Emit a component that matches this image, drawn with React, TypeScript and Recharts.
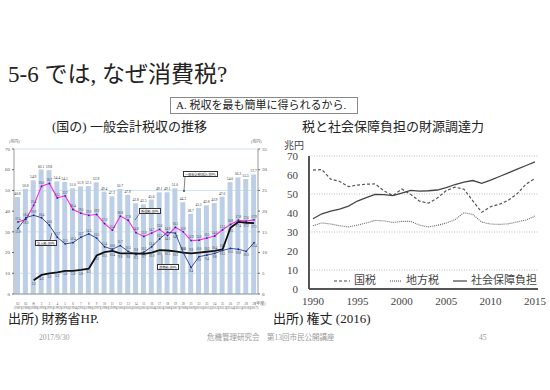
import React from "react";
import {
  ComposedChart,
  LineChart,
  Bar,
  Line,
  XAxis,
  YAxis,
  CartesianGrid,
  LabelList,
} from "recharts";

// left chart: general account tax revenue, FY1987-2017 (trillion yen)
const fiscalYears = [
  1987, 1988, 1989, 1990, 1991, 1992, 1993, 1994, 1995, 1996, 1997, 1998, 1999, 2000, 2001, 2002,
  2003, 2004, 2005, 2006, 2007, 2008, 2009, 2010, 2011, 2012, 2013, 2014, 2015, 2016, 2017,
];
const eraLabels = [
  "62", "63", "元", "2", "3", "4", "5", "6", "7", "8", "9", "10", "11", "12", "13", "14",
  "15", "16", "17", "18", "19", "20", "21", "22", "23", "24", "25", "26", "27", "28", "29",
];
const totalRevenue = [
  46.8, 50.8, 54.9, 60.1, 59.8, 54.4, 54.1, 51.0, 51.9, 52.1, 53.9, 49.4, 47.2, 50.7, 47.9, 43.8,
  43.3, 45.6, 49.1, 49.1, 51.0, 44.3, 38.7, 41.5, 42.8, 43.9, 47.0, 54.0, 56.3, 55.5, 57.7,
];
const incomeTax = [
  17.4, 18.0, 21.4, 26.0, 26.7, 23.2, 23.7, 20.4, 19.5, 19.0, 19.2, 17.0, 15.4, 18.8, 17.8, 14.8,
  13.9, 14.7, 15.6, 14.1, 16.1, 15.0, 12.9, 13.0, 13.5, 14.0, 15.5, 16.8, 17.8, 17.6, 17.9,
];
const corporateTax = [
  15.8, 18.4, 19.0, 18.4, 16.6, 13.7, 12.1, 12.4, 13.7, 14.5, 13.5, 11.4, 10.8, 11.7, 10.3, 9.5,
  10.1, 11.4, 13.3, 14.9, 14.7, 10.0, 6.4, 9.0, 9.4, 9.8, 10.5, 11.0, 10.8, 10.3, 12.4,
];
const consumptionTax = [
  null, null, 3.3, 4.6, 5.0, 5.2, 5.6, 5.6, 5.8, 6.1, 9.3, 10.1, 10.4, 9.8, 9.8, 9.8,
  9.7, 10.0, 10.6, 10.5, 10.3, 10.0, 9.8, 10.0, 10.2, 10.4, 10.8, 16.0, 17.4, 17.2, 17.1,
];
const leftTicks = [0, 10, 20, 30, 40, 50, 60, 70];
const rightTicks = [0, 5, 10, 15, 20, 25, 30, 35];

// right chart: funding capacity of taxes and social insurance (trillion yen)
const calendarYears = [
  1990, 1991, 1992, 1993, 1994, 1995, 1996, 1997, 1998, 1999, 2000, 2001, 2002,
  2003, 2004, 2005, 2006, 2007, 2008, 2009, 2010, 2011, 2012, 2013, 2014, 2015,
];
const nationalTax = [
  62.6, 62.8, 57.8, 56.6, 53.9, 54.7, 55.2, 55.3, 51.6, 49.2, 52.6, 49.8, 46.2,
  45.2, 47.9, 51.8, 53.6, 52.5, 46.4, 40.4, 43.3, 44.6, 46.7, 50.2, 55.2, 58.2,
];
const localTax = [
  33.3, 34.8, 34.2, 33.3, 32.7, 33.6, 34.8, 36.1, 35.9, 35.0, 35.6, 35.6, 33.6,
  32.7, 33.5, 34.7, 36.5, 40.2, 39.2, 35.2, 34.2, 34.0, 34.3, 35.3, 36.3, 38.4,
];
const socialInsurance = [
  37.0, 39.6, 41.0, 42.1, 43.6, 46.3, 48.1, 49.8, 49.7, 49.1, 50.5, 51.9, 51.5,
  51.7, 52.1, 53.3, 55.0, 56.3, 57.1, 55.6, 57.3, 59.2, 61.1, 63.1, 65.0, 66.9,
];
const yearTicks = [1990, 1995, 2000, 2005, 2010, 2015];
const fundTicks = [0, 10, 20, 30, 40, 50, 60, 70];

const revenueData = fiscalYears.map((y, i) => ({
  era: eraLabels[i],
  total: totalRevenue[i],
  income: incomeTax[i],
  corporate: corporateTax[i],
  consumption: consumptionTax[i],
}));

const fundData = calendarYears.map((y, i) => ({
  year: y,
  national: nationalTax[i],
  local: localTax[i],
  social: socialInsurance[i],
}));

const SERIF = '"Liberation Serif", "DejaVu Serif", "Noto Sans CJK JP", serif';
const fmt = (v: any) => (v == null ? "" : Number(v).toFixed(1));

// put each point label above or below so the three lines' labels don't collide
function labelSide(key: string, row: any): "top" | "bottom" {
  const { income, corporate, consumption } = row;
  if (key === "income") return corporate > income ? "bottom" : "top";
  if (key === "corporate") {
    if (corporate >= income) return "top";
    if (consumption != null && consumption > corporate) return "bottom";
    return income - corporate < 2 ? "bottom" : "top";
  }
  if (corporate > consumption) return "bottom";
  return income - consumption < 2 ? "bottom" : "top";
}

const labelledDot = (key: string, color: string, r: number) => (props: any) => {
  const { cx, cy, index, payload } = props;
  const v = payload ? payload[key] : null;
  if (v == null || cy == null || Number.isNaN(cy)) return <g key={`${key}-${index}`} />;
  const ty = labelSide(key, payload) === "top" ? cy - 2.2 : cy + 4.6;
  return (
    <g key={`${key}-${index}`}>
      {r > 0 && <circle cx={cx} cy={cy} r={r} fill={color} />}
      <text x={cx} y={ty} textAnchor="middle" fontSize={3.1} fill="#333">
        {v.toFixed(1)}
      </text>
    </g>
  );
};

function EraTick(props: any) {
  const { x, y, payload } = props;
  const i = eraLabels.indexOf(payload.value);
  return (
    <text x={x} y={y + 3} textAnchor="middle" fontSize={3.2} fill="#555" fontFamily={SERIF}>
      <tspan x={x} dy={0}>{payload.value}</tspan>
      <tspan x={x} dy={3.6}>({fiscalYears[i]})</tspan>
    </text>
  );
}

const abs = (left: number, top: number, extra: React.CSSProperties = {}): React.CSSProperties => ({
  position: "absolute",
  left,
  top,
  whiteSpace: "nowrap",
  lineHeight: 1,
  fontFamily: SERIF,
  color: "#222",
  ...extra,
});

const callout: React.CSSProperties = {
  border: "0.5px solid #333",
  background: "#fff",
  fontSize: 3.2,
  padding: "0.5px 1px",
  fontFamily: '"Noto Sans CJK JP", sans-serif',
};

function LegendItem({ dash, label, width }: { dash?: string; label: string; width: number }) {
  return (
    <span style={{ display: "inline-flex", alignItems: "center", marginRight: 14 }}>
      <svg width={width} height={6}>
        <line x1={0} y1={3} x2={width} y2={3} stroke="#444" strokeWidth={1.2} strokeDasharray={dash} />
      </svg>
      <span style={{ marginLeft: 4 }}>{label}</span>
    </span>
  );
}

export default function App() {
  return (
    <div style={{ position: "absolute", left: 0, top: 0, width: 550, height: 390, background: "#fff", overflow: "hidden" }}>
      <div style={abs(8, 63, { fontSize: 23 })}>5-6 では, なぜ消費税?</div>
      <div
        style={abs(170, 97, {
          width: 188,
          height: 17,
          boxSizing: "border-box",
          border: "1px solid #8a8a8a",
          fontSize: 11,
          lineHeight: "15px",
          paddingLeft: 5,
        })}
      >
        A. 税収を最も簡単に得られるから.
      </div>
      <div style={abs(52, 120, { fontSize: 13 })}>(国の) 一般会計税収の推移</div>
      <div style={abs(302, 120, { fontSize: 13 })}>税と社会保障負担の財源調達力</div>

      {/* left chart */}
      <div style={{ position: "absolute", left: 0, top: 135 }}>
        <ComposedChart width={275} height={175} data={revenueData} margin={{ top: 14, right: 5, bottom: 4, left: 0 }}>
          <CartesianGrid vertical={false} yAxisId="l" stroke="#c3dde6" strokeWidth={0.8} />
          <XAxis dataKey="era" interval={0} tick={<EraTick />} tickLine={false} height={12} axisLine={{ stroke: "#999" }} />
          <YAxis
            yAxisId="l"
            domain={[0, 70]}
            ticks={leftTicks}
            width={14}
            tickSize={2}
            tickMargin={2}
            tick={{ fontSize: 5, fill: "#555" }}
            axisLine={{ stroke: "#999" }}
          />
          <YAxis
            yAxisId="r"
            orientation="right"
            domain={[0, 35]}
            ticks={rightTicks}
            width={12}
            tickSize={2}
            tickMargin={2}
            tick={{ fontSize: 5, fill: "#555" }}
            axisLine={{ stroke: "#999" }}
          />
          <Bar yAxisId="l" dataKey="total" fill="#bccfe7" barSize={5} isAnimationActive={false}>
            <LabelList dataKey="total" position="top" fontSize={3.6} fill="#333" formatter={fmt} offset={2} />
          </Bar>
          <Line
            yAxisId="r"
            dataKey="income"
            stroke="#ff22ee"
            strokeWidth={1.1}
            dot={labelledDot("income", "#1f2f80", 0.9)}
            activeDot={false}
            isAnimationActive={false}
          />
          <Line
            yAxisId="r"
            dataKey="corporate"
            stroke="#2b3a8c"
            strokeWidth={0.9}
            dot={labelledDot("corporate", "#1f2f80", 0.9)}
            activeDot={false}
            isAnimationActive={false}
          />
          <Line
            yAxisId="r"
            dataKey="consumption"
            stroke="#111"
            strokeWidth={1.8}
            dot={labelledDot("consumption", "#111", 0)}
            activeDot={false}
            connectNulls={false}
            isAnimationActive={false}
          />
        </ComposedChart>
      </div>
      <div style={abs(9, 140, { fontSize: 4, color: "#555" })}>(兆円)</div>
      <div style={abs(251, 140, { fontSize: 4, color: "#555" })}>(兆円)</div>
      <div style={abs(255, 302, { fontSize: 4, color: "#555" })}>(年度)</div>

      <svg width={550} height={390} style={{ position: "absolute", left: 0, top: 0, pointerEvents: "none" }}>
        <line x1={185} y1={177} x2={184} y2={191} stroke="#333" strokeWidth={0.6} />
        <circle cx={184} cy={191} r={0.9} fill="#333" />
        <line x1={140} y1={213} x2={135} y2={220} stroke="#333" strokeWidth={0.6} />
        <line x1={50} y1={240} x2={52} y2={233} stroke="#333" strokeWidth={0.6} />
        <line x1={162} y1={264} x2={162} y2={255} stroke="#333" strokeWidth={0.6} />
      </svg>
      <div style={{ ...abs(183, 171), ...callout }}>一般会計税収計(兆円)</div>
      <div style={{ ...abs(139, 208), ...callout }}>所得税(兆円)</div>
      <div style={{ ...abs(35, 240), ...callout }}>法人税(兆円)</div>
      <div style={{ ...abs(157, 264), ...callout }}>消費税(兆円)</div>

      {/* right chart */}
      <div style={{ position: "absolute", left: 285, top: 140 }}>
        <LineChart width={262} height={175} data={fundData} margin={{ top: 16, right: 9, bottom: 4, left: 0 }}>
          <CartesianGrid vertical={false} stroke="#bdbdbd" strokeDasharray="1 1.5" strokeWidth={1.2} />
          <XAxis
            dataKey="year"
            type="number"
            domain={[1990, 2015]}
            ticks={yearTicks}
            padding={{ left: 4, right: 3 }}
            tickLine={false}
            height={22}
            tick={{ fontSize: 11, fill: "#444", fontFamily: SERIF }}
            axisLine={{ stroke: "#555", strokeWidth: 2 }}
          />
          <YAxis
            domain={[0, 70]}
            ticks={fundTicks}
            width={24}
            tickLine={false}
            tickMargin={5}
            tick={{ fontSize: 11, fill: "#444", fontFamily: SERIF }}
            axisLine={{ stroke: "#555", strokeWidth: 2 }}
          />
          <Line dataKey="national" stroke="#555" strokeWidth={1.2} strokeDasharray="3 2" dot={false} isAnimationActive={false} />
          <Line dataKey="local" stroke="#666" strokeWidth={1.1} strokeDasharray="1 1" dot={false} isAnimationActive={false} />
          <Line dataKey="social" stroke="#444" strokeWidth={1.3} dot={false} isAnimationActive={false} />
        </LineChart>
      </div>
      <div style={abs(284, 141, { fontSize: 10, color: "#444" })}>兆円</div>
      <div style={abs(334, 275, { fontSize: 11, color: "#444", display: "flex" })}>
        <LegendItem dash="3 2" label="国税" width={16} />
        <LegendItem dash="1 1" label="地方税" width={12} />
        <LegendItem label="社会保障負担" width={14} />
      </div>

      <div style={abs(8, 312, { fontSize: 13 })}>出所) 財務省HP.</div>
      <div style={abs(273, 312, { fontSize: 13 })}>出所) 権丈 (2016)</div>
      <div style={abs(39, 334, { fontSize: 7.5, color: "#999" })}>2017/9/30</div>
      <div style={abs(207, 334, { fontSize: 7.5, color: "#999" })}>危機管理研究会　第13回市民公開講座</div>
      <div style={abs(479, 334, { fontSize: 7.5, color: "#999" })}>45</div>
    </div>
  );
}
